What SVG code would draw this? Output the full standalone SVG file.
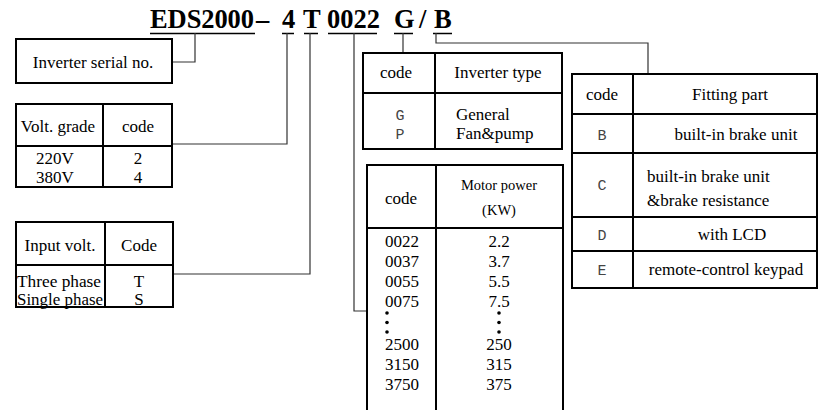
<svg xmlns="http://www.w3.org/2000/svg" width="819" height="410" viewBox="0 0 819 410">
<style>
.t{font-family:"Liberation Serif","Times New Roman",serif;font-size:17px;fill:#000}
.s{font-size:14.5px}
.n{font-size:16.5px}
.c{text-anchor:middle}
.k{font-family:"Liberation Mono","Courier New",monospace;font-size:15px;fill:#444;text-anchor:middle}
.h{font-family:"Liberation Serif","Times New Roman",serif;font-size:26.5px;font-weight:bold;fill:#000}
.b{fill:none;stroke:#000;stroke-width:2}
.ul{stroke:#000;stroke-width:1.5}
.cn{fill:none;stroke:#333;stroke-width:1.2}
</style>
<rect width="819" height="410" fill="#fff"/>
<g id="title">
<text class="h" x="150" y="28" textLength="104" lengthAdjust="spacing">EDS2000</text>
<text class="h" x="256" y="28">–</text>
<text class="h" x="282" y="28">4</text>
<text class="h" x="303" y="28">T</text>
<text class="h" x="327" y="28">0022</text>
<text class="h" x="394" y="28">G</text>
<text class="h" x="419" y="28">/</text>
<text class="h" x="434" y="28">B</text>
<line class="ul" x1="150" y1="33.5" x2="255" y2="33.5"/>
<line class="ul" x1="282" y1="33.5" x2="294" y2="33.5"/>
<line class="ul" x1="304" y1="33.5" x2="318" y2="33.5"/>
<line class="ul" x1="328" y1="33.5" x2="377" y2="33.5"/>
<line class="ul" x1="394" y1="33.5" x2="413" y2="33.5"/>
<line class="ul" x1="433" y1="33.5" x2="452" y2="33.5"/>
</g>
<g id="connectors">
<polyline class="cn" points="195,33 195,62 172,62"/>
<polyline class="cn" points="287,33 287,144 172,144"/>
<polyline class="cn" points="310,33 310,274 173,274"/>
<polyline class="cn" points="354,33 354,311 367,311"/>
<polyline class="cn" points="403,33 403,53"/>
<polyline class="cn" points="436,33 436,43 648,43 648,74"/>
</g>
<g id="serial">
<rect class="b" x="16" y="39" width="156" height="44"/>
<text class="t c" x="93" y="68">Inverter serial no.</text>
</g>
<g id="volt-grade">
<rect class="b" x="16" y="104" width="156" height="83"/>
<line class="b" x1="103" y1="104" x2="103" y2="187"/>
<line class="b" x1="16" y1="146" x2="172" y2="146"/>
<text class="t c" x="58" y="132">Volt. grade</text>
<text class="t c" x="138" y="132">code</text>
<text class="t c" x="55" y="164">220V</text>
<text class="t c" x="55" y="183">380V</text>
<text class="t c" x="138" y="164">2</text>
<text class="t c" x="138" y="183">4</text>
</g>
<g id="input-volt">
<rect class="b" x="16" y="222" width="157" height="85"/>
<line class="b" x1="105" y1="222" x2="105" y2="307"/>
<line class="b" x1="16" y1="265" x2="173" y2="265"/>
<text class="t c" x="60" y="251">Input volt.</text>
<text class="t c" x="139" y="251">Code</text>
<text class="t n" x="17" y="287" textLength="84" lengthAdjust="spacingAndGlyphs">Three phase</text>
<text class="t n" x="17" y="305" textLength="86" lengthAdjust="spacingAndGlyphs">Single phase</text>
<text class="t c" x="139" y="287">T</text>
<text class="t c" x="139" y="305">S</text>
</g>
<g id="inverter-type">
<rect class="b" x="363" y="53" width="199" height="96"/>
<line class="b" x1="435" y1="53" x2="435" y2="149"/>
<line class="b" x1="363" y1="93" x2="562" y2="93"/>
<text class="t c" x="396" y="78">code</text>
<text class="t c" x="498" y="78">Inverter type</text>
<text class="k" x="400" y="120">G</text>
<text class="k" x="400" y="139">P</text>
<text class="t" x="456" y="120">General</text>
<text class="t" x="456" y="139">Fan&amp;pump</text>
</g>
<g id="motor-power">
<rect class="b" x="367" y="165" width="196" height="252"/>
<line class="b" x1="436" y1="165" x2="436" y2="417"/>
<line class="b" x1="367" y1="228" x2="563" y2="228"/>
<text class="t c" x="401" y="204">code</text>
<text class="t s c" x="499" y="190">Motor power</text>
<text class="t s c" x="499" y="215">(KW)</text>
<text class="t" x="385" y="247">0022</text>
<text class="t" x="385" y="267">0037</text>
<text class="t" x="385" y="287">0055</text>
<text class="t" x="385" y="307">0075</text>
<text class="t" x="385" y="350">2500</text>
<text class="t" x="385" y="370">3150</text>
<text class="t" x="385" y="390">3750</text>
<text class="t c" x="499" y="247">2.2</text>
<text class="t c" x="499" y="267">3.7</text>
<text class="t c" x="499" y="287">5.5</text>
<text class="t c" x="499" y="307">7.5</text>
<text class="t c" x="499" y="350">250</text>
<text class="t c" x="499" y="370">315</text>
<text class="t c" x="499" y="390">375</text>
<g fill="#000">
<circle cx="387" cy="313" r="1.8"/><circle cx="387" cy="322.5" r="1.8"/><circle cx="387" cy="332" r="1.8"/>
<circle cx="499" cy="313" r="1.8"/><circle cx="499" cy="322.5" r="1.8"/><circle cx="499" cy="332" r="1.8"/>
</g>
</g>
<g id="fitting-part">
<rect class="b" x="572" y="74" width="245" height="214"/>
<line class="b" x1="633" y1="74" x2="633" y2="288"/>
<line class="b" x1="572" y1="114" x2="817" y2="114"/>
<line class="b" x1="572" y1="153" x2="817" y2="153"/>
<line class="b" x1="572" y1="217" x2="817" y2="217"/>
<line class="b" x1="572" y1="251" x2="817" y2="251"/>
<text class="t c" x="602" y="100">code</text>
<text class="t c" x="730" y="100">Fitting part</text>
<text class="k" x="602" y="140">B</text>
<text class="k" x="602" y="190">C</text>
<text class="k" x="602" y="240">D</text>
<text class="k" x="602" y="275">E</text>
<text class="t c" x="736" y="140">built-in brake unit</text>
<text class="t" x="647" y="182">built-in brake unit</text>
<text class="t" x="647" y="206">&amp;brake resistance</text>
<text class="t c" x="732" y="240">with LCD</text>
<text class="t c" x="726" y="275">remote-control keypad</text>
</g>
</svg>
